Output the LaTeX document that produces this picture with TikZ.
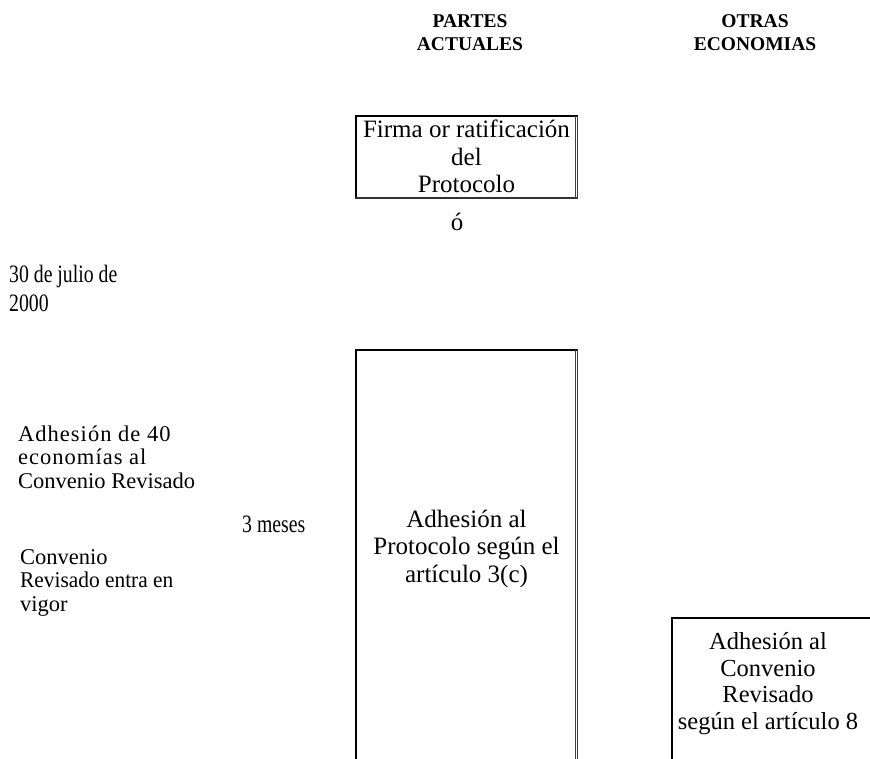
\documentclass[tikz,border=0pt]{standalone}
\usepackage{fontspec}
\setmainfont{Liberation Serif}
\newfontfamily\condfont[FakeStretch=0.79]{Liberation Serif}
\newfontfamily\slightcond[FakeStretch=0.95]{Liberation Serif}
\newfontfamily\widefont[LetterSpace=4.5]{Liberation Serif}
\begin{document}
\begin{tikzpicture}[x=1pt,y=-1pt,
  hdr/.style={font=\bfseries\fontsize{19.5}{23}\selectfont,align=center,anchor=base,inner sep=0pt},
  boxtxt/.style={font=\fontsize{25}{27.5}\selectfont,align=center,anchor=base,inner sep=0pt},
  sidetxt/.style={font=\fontsize{22.5}{23.5}\selectfont,align=left,anchor=base west,inner sep=0pt},
  condtxt/.style={font=\condfont\fontsize{25}{29}\selectfont,align=left,anchor=base west,inner sep=0pt},
  leftedge/.style={line width=2.7pt},
  topedge/.style={line width=2pt},
  rightedge/.style={line width=0.9pt,black!75}]
\useasboundingbox (0,0) rectangle (870,758);
% headers (anchor = baseline of last line)
\node[hdr] (h1) at (470,50) {PARTES\\ACTUALES};
\node[hdr] (h2) at (755,50) {OTRAS\\ECONOMIAS};
% box 1
\draw[leftedge] (356,198.5) -- (356,114.5);
\draw[topedge] (355,115.5) -- (577.5,115.5);
\draw[line width=2pt,black!80] (355,197.5) -- (577.5,197.5);
\draw[rightedge] (575,115.5) -- (575,198);
\draw[rightedge] (577.5,115.5) -- (577.5,198);
\node[boxtxt] (t1) at (466.5,192.5) {Firma or ratificación\\del\\Protocolo};
\node[boxtxt] (o) at (457,230) {ó};
% left texts
\node[condtxt] (fecha) at (9,311) {30 de julio de\\2000};
\node[sidetxt] (adh40) at (18,488) {{\widefont Adhesión de 40}\\{\widefont economías al}\\Convenio Revisado};
\node[condtxt] (meses) at (242,532) {3 meses};
\node[sidetxt] (vigor) at (20,611) {Convenio\\{\slightcond Revisado entra en}\\vigor};
% box 2
\draw[leftedge] (356,760) -- (356,349);
\draw[topedge] (355,350) -- (577.5,350);
\draw[rightedge] (575,350) -- (575,760);
\draw[rightedge] (577.5,350) -- (577.5,760);
\node[boxtxt] (t2) at (466.5,582) {Adhesión al\\Protocolo según el\\artículo 3(c)};
% box 3
\draw[leftedge] (672,760) -- (672,617);
\draw[topedge] (671,618) -- (872,618);
\node[boxtxt,font=\fontsize{24.5}{26.5}\selectfont] (t3) at (768,729) {Adhesión al\\Convenio\\Revisado\\según el artículo 8};
\end{tikzpicture}
\end{document}
